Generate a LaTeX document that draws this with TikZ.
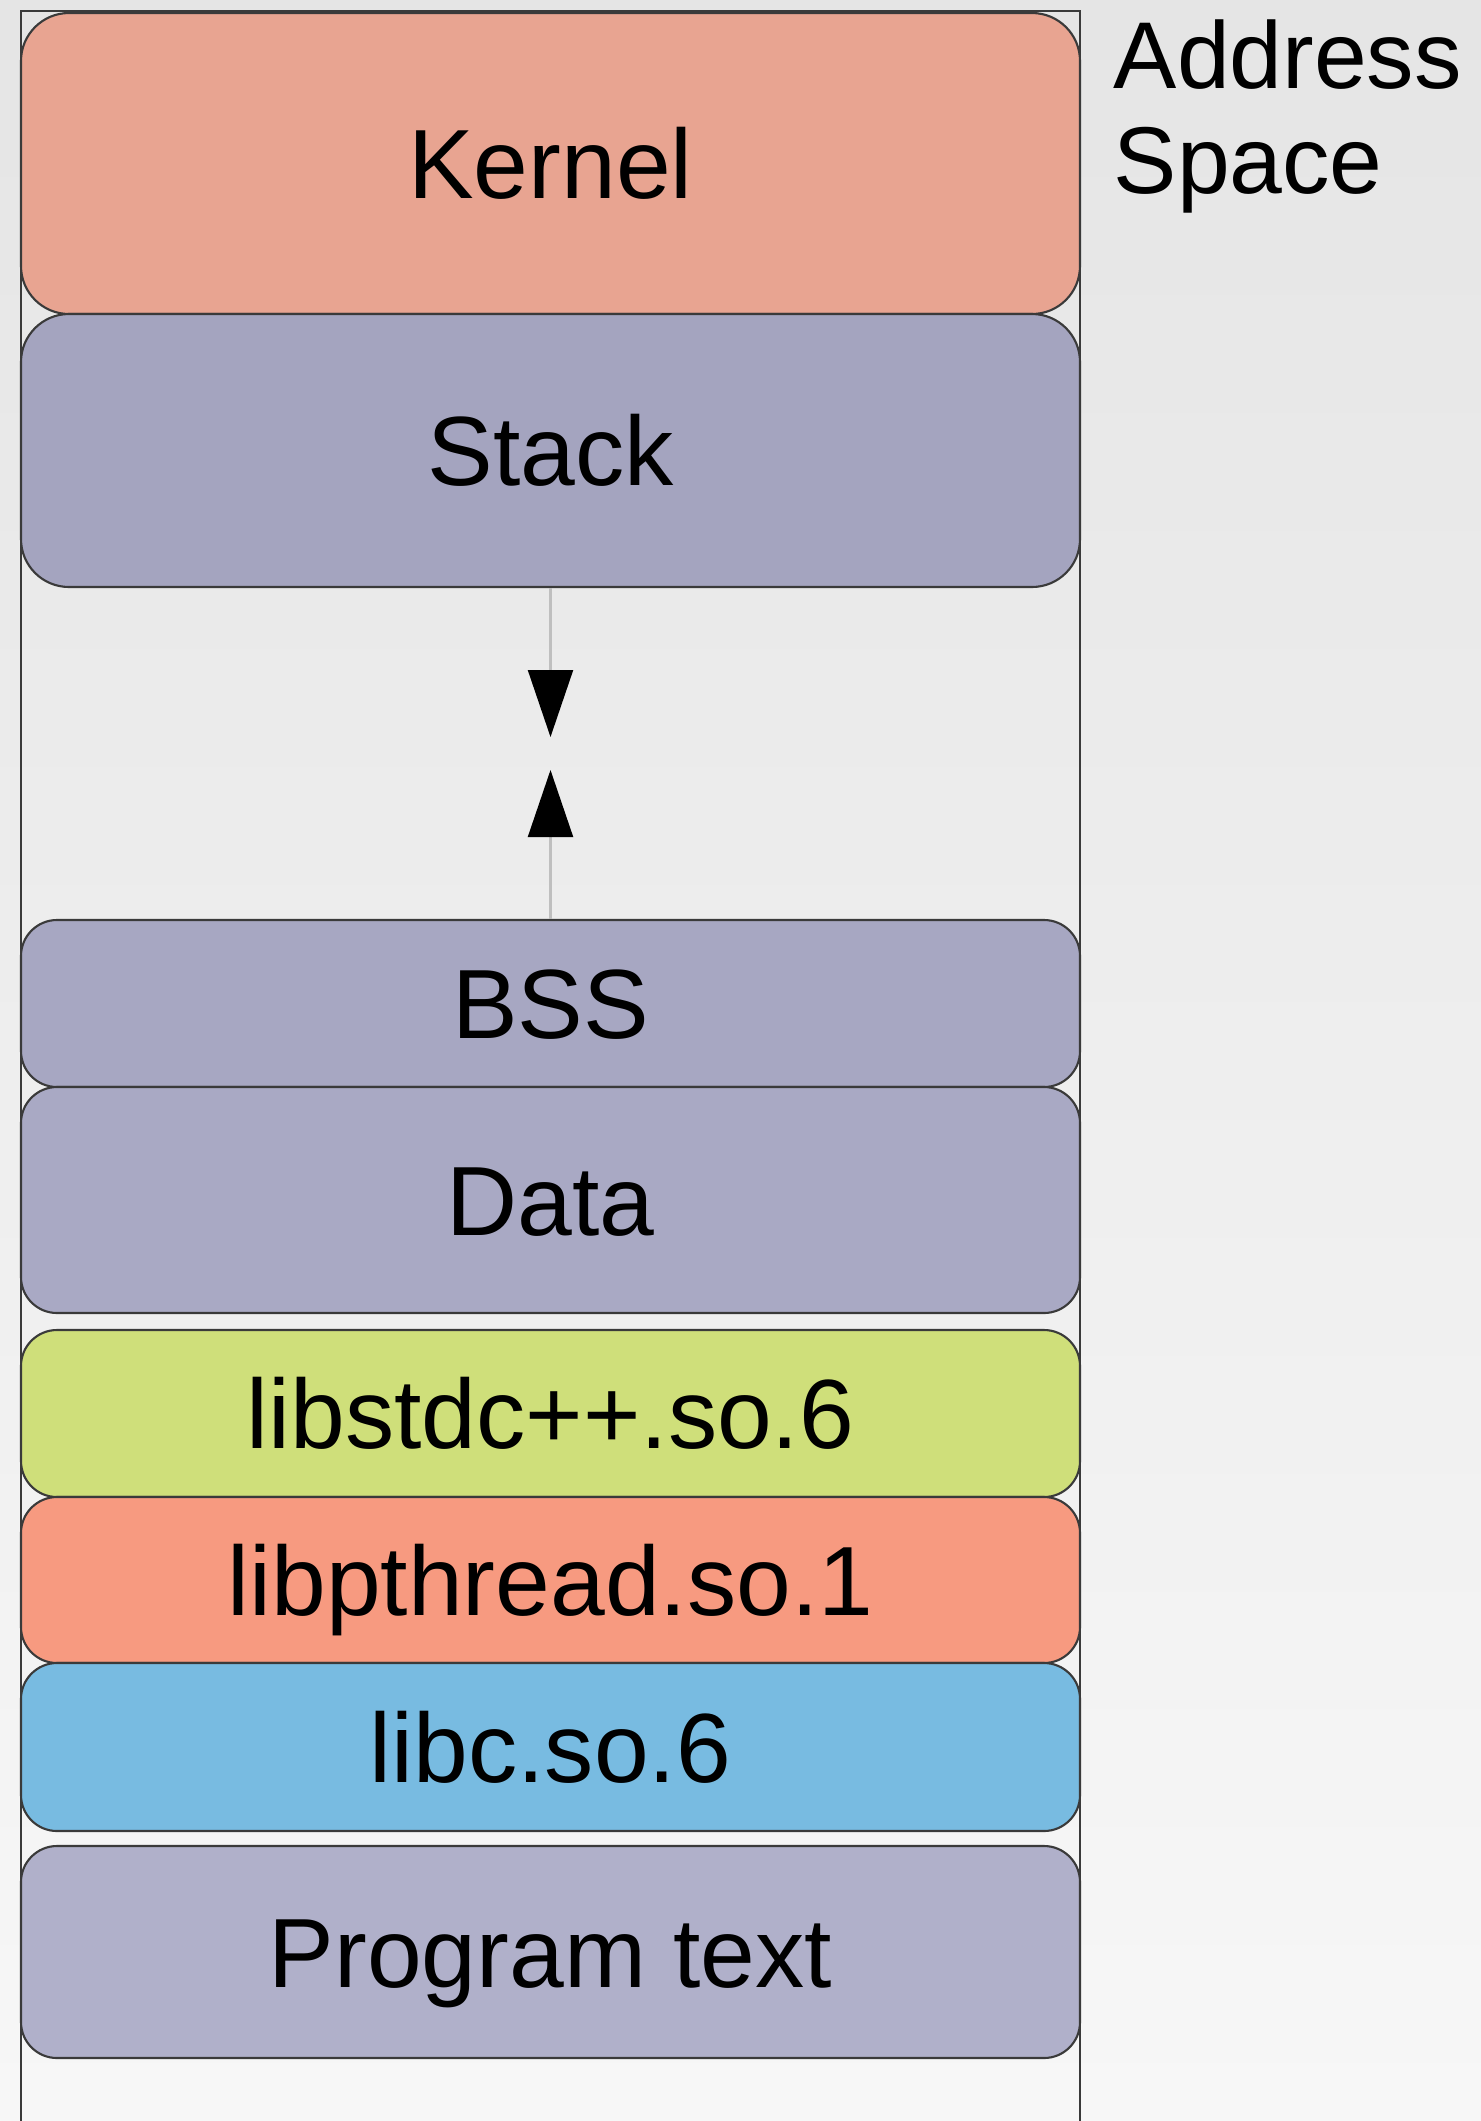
\documentclass[tikz,border=0pt]{standalone}
\usepackage{fontspec}
\setmainfont{Liberation Sans}
\usetikzlibrary{arrows.meta}

\definecolor{bgtop}{HTML}{E5E5E5}
\definecolor{bgbottom}{HTML}{F7F7F7}
\definecolor{kernelcol}{HTML}{E8A491}
\definecolor{stackcol}{HTML}{A4A4BF}
\definecolor{bsscol}{HTML}{A7A7C2}
\definecolor{datacol}{HTML}{A9A9C4}
\definecolor{stdcppcol}{HTML}{CFDF7A}
\definecolor{pthreadcol}{HTML}{F79A80}
\definecolor{libccol}{HTML}{78BBE1}
\definecolor{progcol}{HTML}{B0B0CA}
\definecolor{edgecol}{HTML}{3A3A3A}

\tikzset{
  segment/.style={draw=edgecol, line width=0.6pt, rounded corners=0.36cm,
    minimum width=10.59cm, inner sep=0pt, text height=20pt, text depth=0pt,
    font=\fontsize{28}{30}\selectfont},
  growth/.style={draw=black!25, line width=0.6pt,
    -{Triangle[width=0.45cm, length=0.67cm, black]}},
}

\begin{document}
\begin{tikzpicture}
  \useasboundingbox (0, 0) rectangle (14.81, -21.21);
  % Background
  \shade[top color=bgtop, bottom color=bgbottom] (0, 0) rectangle (14.81, -21.21);

  % Address space frame
  \draw[draw=edgecol, line width=0.6pt] (0.21, -21.4) -- (0.21, -0.11) -- (10.80, -0.11) -- (10.80, -21.4);

  % Segments, top to bottom
  \node[segment, fill=kernelcol, minimum height=3.01cm, rounded corners=0.48cm] (kernel) at (5.505, -1.635) {Kernel};
  \node[segment, fill=stackcol, minimum height=2.73cm, rounded corners=0.48cm] (stack) at (5.505, -4.505) {Stack};
  \node[segment, fill=bsscol, minimum height=1.67cm] (bss) at (5.505, -10.035) {BSS};
  \node[segment, fill=datacol, minimum height=2.26cm] (data) at (5.505, -12.00) {Data};
  \node[segment, fill=stdcppcol, minimum height=1.67cm] (stdcpp) at (5.505, -14.135) {libstdc++.so.6};
  \node[segment, fill=pthreadcol, minimum height=1.66cm] (pthread) at (5.505, -15.80) {libpthread.so.1};
  \node[segment, fill=libccol, minimum height=1.68cm] (libc) at (5.505, -17.47) {libc.so.6};
  \node[segment, fill=progcol, minimum height=2.12cm] (prog) at (5.505, -19.52) {Program text};

  % Stack and heap grow toward each other
  \coordinate (stacktip) at (5.505, -7.37);
  \coordinate (bsstip) at (5.505, -7.70);
  \draw[growth] (stack.south) -- (stacktip);
  \draw[growth] (bss.north) -- (bsstip);

  % Title
  \node[anchor=north west, inner sep=0pt, align=left, font=\fontsize{27}{30}\selectfont] (title) at (11.13, -0.19) {Address\\Space};
\end{tikzpicture}
\end{document}
